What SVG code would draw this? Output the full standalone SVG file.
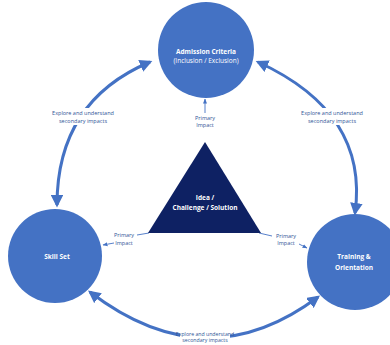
<svg xmlns="http://www.w3.org/2000/svg" width="390" height="345" viewBox="0 0 390 345">
<defs>
<marker id="ah" viewBox="0 0 10 10" refX="8" refY="5" markerWidth="4.2" markerHeight="4.2" orient="auto-start-reverse" markerUnits="strokeWidth">
<path d="M0,0 L10,5 L0,10 z" fill="#4472C4"/>
</marker>
<marker id="sm" viewBox="0 0 10 10" refX="9" refY="5" markerWidth="5" markerHeight="5" orient="auto" markerUnits="userSpaceOnUse">
<path d="M0,1 L10,5 L0,9 z" fill="#4472C4"/>
</marker>
<style>
.node{fill:#4472C4}
.nt{font-family:"Open Sans","Liberation Sans",sans-serif;font-size:6.5px;font-weight:bold;fill:#ffffff;text-anchor:middle}
.nt2{font-family:"Open Sans","Liberation Sans",sans-serif;font-size:6.5px;fill:#ffffff;text-anchor:middle}
.lbl{font-family:"Open Sans","Liberation Sans",sans-serif;font-size:5.5px;fill:#2F5597;text-anchor:middle}
.arc{fill:none;stroke:#4472C4;stroke-width:3}
.thin{fill:none;stroke:#4472C4;stroke-width:0.9}
</style>
</defs>
<rect width="390" height="345" fill="#ffffff"/>
<g id="connectors">
<path class="arc" d="M150,62 Q57,101 57,205" marker-start="url(#ah)" marker-end="url(#ah)"/>
<path class="arc" d="M258,62 Q369,113 355,213" marker-start="url(#ah)" marker-end="url(#ah)"/>
<path class="arc" d="M90,292 Q206,381 318,297" marker-start="url(#ah)" marker-end="url(#ah)"/>
<path class="thin" d="M205,113 L205,99" marker-end="url(#sm)"/>
<path class="thin" d="M149,233 L137,235"/>
<path class="thin" d="M114,243 L103,245" marker-end="url(#sm)"/>
<path class="thin" d="M259,233 L272,236"/>
<path class="thin" d="M299,244 L307,248" marker-end="url(#sm)"/>
</g>
<g id="label-tl">
<rect x="58" y="108" width="50" height="17" fill="#ffffff"/>
<text class="lbl" x="83" y="115">Explore and understand</text>
<text class="lbl" x="83" y="122.5">secondary impacts</text>
</g>
<g id="label-tr">
<rect x="307" y="108" width="50" height="17" fill="#ffffff"/>
<text class="lbl" x="332" y="115">Explore and understand</text>
<text class="lbl" x="332" y="122.5">secondary impacts</text>
</g>
<g id="label-b">
<rect x="180" y="331" width="50" height="14" fill="#ffffff"/>
<text class="lbl" x="205" y="335.5" style="font-size:5.2px">Explore and understand</text>
<text class="lbl" x="205" y="342.3" style="font-size:5.2px">secondary impacts</text>
</g>
<g id="admission">
<circle class="node" cx="206" cy="50" r="48"/>
<text class="nt" x="206" y="54">Admission  Criteria</text>
<text class="nt2" x="206" y="63">(Inclusion / Exclusion)</text>
</g>
<g id="skillset">
<circle class="node" cx="55" cy="256" r="47"/>
<text class="nt" x="57" y="259">Skill Set</text>
</g>
<g id="training">
<circle class="node" cx="355" cy="262" r="48"/>
<text class="nt" x="354" y="259">Training &amp;</text>
<text class="nt" x="354" y="270">Orientation</text>
</g>
<g id="idea">
<polygon points="205,142 148,233 261,233" fill="#0E2163"/>
<text class="nt" x="205" y="200">Idea  /</text>
<text class="nt" x="205" y="210">Challenge  /  Solution</text>
</g>
<g id="pi-top">
<text class="lbl" x="205" y="120">Primary</text>
<text class="lbl" x="205" y="127">Impact</text>
</g>
<g id="pi-left">
<text class="lbl" x="124" y="237">Primary</text>
<text class="lbl" x="124" y="244.5">Impact</text>
</g>
<g id="pi-right">
<text class="lbl" x="286" y="237.5">Primary</text>
<text class="lbl" x="286" y="245">Impact</text>
</g>
</svg>
